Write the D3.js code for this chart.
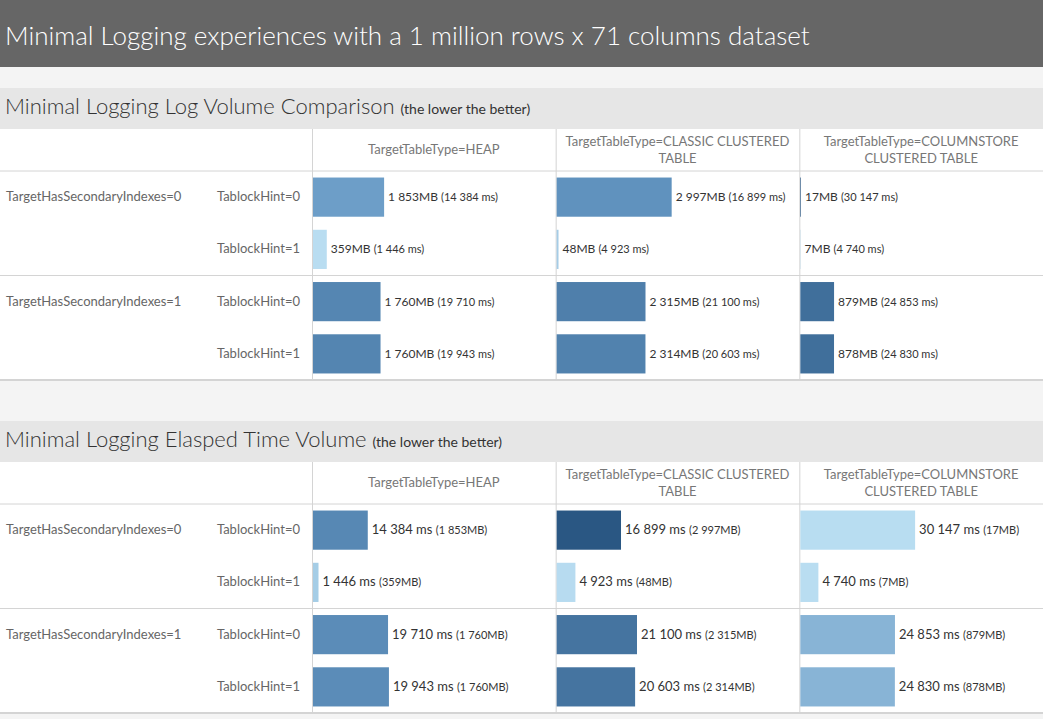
<!DOCTYPE html>
<html>
<head>
<meta charset="utf-8">
<script src="https://cdn.jsdelivr.net/npm/d3@7"></script>
<style>
  body { margin: 0; background: #f4f4f4; }
  svg { display: block; font-family: Lato, "Open Sans", sans-serif; }
</style>
</head>
<body>
<div id="chart"></div>
<script>
// categories
const tableTypes   = ["HEAP", "CLASSIC CLUSTERED TABLE", "COLUMNSTORE CLUSTERED TABLE"];
const indexLabels  = ["TargetHasSecondaryIndexes=0", "TargetHasSecondaryIndexes=1"];
const hintLabels   = ["TablockHint=0", "TablockHint=1", "TablockHint=0", "TablockHint=1"];

// log volume in MB, rows = (idx0,hint0) (idx0,hint1) (idx1,hint0) (idx1,hint1)
const heapMB        = [1853, 359, 1760, 1760];
const classicMB     = [2997, 48, 2315, 2314];
const columnstoreMB = [17, 7, 879, 878];

// elapsed time in ms
const heapMs        = [14384, 1446, 19710, 19943];
const classicMs     = [16899, 4923, 21100, 20603];
const columnstoreMs = [30147, 4740, 24853, 24830];

const W = 1043, H = 719;
const fmt = d3.formatLocale({decimal: ".", thousands: " ", grouping: [3], currency: ["", ""]}).format(",d");

const svg = d3.select("#chart").append("svg")
  .attr("width", W).attr("height", H);

svg.append("rect").attr("width", W).attr("height", H).attr("fill", "#f4f4f4");

// title bar
svg.append("rect").attr("width", W).attr("height", 67).attr("fill", "#666666");
svg.append("text").attr("x", 5).attr("y", 45)
  .attr("fill", "#ffffff").style("font-size", "26px").style("font-weight", 300)
  .text("Minimal Logging experiences with a 1 million rows x 71 columns dataset");

const cells = [];
tableTypes.forEach(function(t, c) {
  const mb = [heapMB, classicMB, columnstoreMB][c];
  const ms = [heapMs, classicMs, columnstoreMs][c];
  for (let r = 0; r < 4; r++) cells.push({type: t, row: r, mb: mb[r], ms: ms[r]});
});

const xCol = d3.scaleBand().domain(tableTypes).range([312, W]);

function section(top, title, valueKey, otherKey, maxVal, colorKey, bigUnit, smallUnit, bigSize) {
  const g = svg.append("g").attr("transform", `translate(0,${top})`);
  const headH = 41, colHeadH = 42, bodyH = 209;
  const bodyTop = headH + colHeadH;

  g.append("rect").attr("width", W).attr("height", headH).attr("fill", "#e6e6e6");
  const tt = g.append("text").attr("x", 5).attr("y", 26).attr("fill", "#333");
  tt.append("tspan").style("font-size", "22px").style("font-weight", 300).text(title + " ");
  tt.append("tspan").style("font-size", "14px").text("(the lower the better)");

  g.append("rect").attr("y", headH).attr("width", W).attr("height", colHeadH + bodyH).attr("fill", "#ffffff");

  const y = d3.scaleBand().domain(d3.range(4)).range([bodyTop, bodyTop + bodyH])
    .paddingInner(0.25).paddingOuter(0.125);
  const x = d3.scaleLinear().domain([0, maxVal]).range([0, xCol.bandwidth()]);
  const ext = d3.extent(cells, d => d[colorKey]);
  const color = d3.scaleLinear().domain([ext[0], (ext[0] + ext[1]) / 2, ext[1]])
    .range(["#b9ddf1", "#6597c3", "#2a5783"]);

  // grid lines
  const grid = "#d4d4d4";
  [bodyTop, bodyTop + y.step() * 2, bodyTop + bodyH].forEach(function(yy) {
    g.append("line").attr("x1", 0).attr("x2", W).attr("y1", yy).attr("y2", yy)
      .attr("stroke", grid).attr("stroke-width", yy === bodyTop + bodyH ? 2 : 1);
  });
  tableTypes.forEach(function(t) {
    g.append("line").attr("x1", xCol(t) + 0.5).attr("x2", xCol(t) + 0.5)
      .attr("y1", headH).attr("y2", bodyTop + bodyH).attr("stroke", grid);
  });

  // column headers (wrapped)
  tableTypes.forEach(function(t) {
    const words = ("TargetTableType=" + t).split(" ");
    const lines = [];
    let cur = "";
    const probe = g.append("text").style("font-size", "13px");
    words.forEach(function(w) {
      const test = cur ? cur + " " + w : w;
      probe.text(test);
      if (probe.node().getComputedTextLength() > xCol.bandwidth() - 14 && cur) { lines.push(cur); cur = w; }
      else cur = test;
    });
    lines.push(cur);
    probe.remove();
    const cy = headH + colHeadH / 2;
    const txt = g.append("text").attr("text-anchor", "middle").attr("fill", "#777")
      .style("font-size", "13px");
    lines.forEach(function(l, i) {
      txt.append("tspan").attr("x", xCol(t) + xCol.bandwidth() / 2)
        .attr("y", cy + 4 + (i - (lines.length - 1) / 2) * 17).text(l);
    });
  });

  // row headers
  indexLabels.forEach(function(l, i) {
    g.append("text").attr("x", 6).attr("y", y(i * 2) + y.bandwidth() / 2 + 4)
      .attr("fill", "#666").style("font-size", "13px").text(l);
  });
  hintLabels.forEach(function(l, i) {
    g.append("text").attr("x", 300).attr("y", y(i) + y.bandwidth() / 2 + 4)
      .attr("text-anchor", "end").attr("fill", "#666").style("font-size", "13px").text(l);
  });

  // bars
  g.selectAll("rect.bar").data(cells).enter().append("rect")
    .attr("class", "bar")
    .attr("x", d => xCol(d.type) + 1)
    .attr("y", d => y(d.row))
    .attr("width", d => x(d[valueKey]))
    .attr("height", y.bandwidth())
    .attr("fill", d => color(d[colorKey]));

  const lab = g.selectAll("text.lab").data(cells).enter().append("text")
    .attr("class", "lab")
    .attr("x", d => xCol(d.type) + 1 + x(d[valueKey]) + 4)
    .attr("y", d => y(d.row) + y.bandwidth() / 2 + 4)
    .attr("fill", "#333");
  lab.append("tspan").style("font-size", bigSize).text(d => fmt(d[valueKey]) + bigUnit + " ");
  lab.append("tspan").style("font-size", "11px").text(d => "(" + fmt(d[otherKey]) + smallUnit + ")");
}

section(88, "Minimal Logging Log Volume Comparison", "mb", "ms", 6350, "ms", "MB", " ms", "12px");
section(421, "Minimal Logging Elasped Time Volume", "ms", "mb", 64000, "mb", " ms", "MB", "13px");
</script>
</body>
</html>
